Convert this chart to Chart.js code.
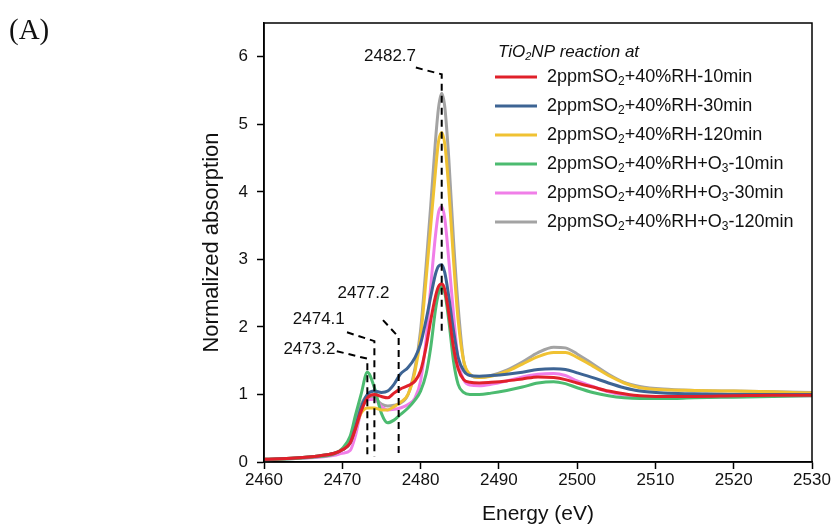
<!DOCTYPE html>
<html>
<head>
<meta charset="utf-8">
<script src="https://cdn.jsdelivr.net/npm/chart.js@4.4.0/dist/chart.umd.min.js"></script>
<style>
  html, body { margin: 0; padding: 0; background: #fff; }
  #wrap { width: 833px; height: 529px; }
</style>
</head>
<body>
<div id="wrap"><canvas id="xanes" width="833" height="529"></canvas></div>
<script>
// photon energy grid (eV)
const energy = [2460, 2464, 2467, 2469, 2470, 2471, 2471.7, 2472.4, 2473.2, 2474.1,
  2475, 2475.8, 2476.6, 2477.4, 2478.4, 2479.3, 2480, 2480.7, 2481.3, 2481.9,
  2482.3, 2482.7, 2483.1, 2483.6, 2484.2, 2484.8, 2485.5, 2486.3, 2487.5, 2489,
  2491, 2493, 2495, 2497, 2498.5, 2500, 2502, 2504, 2506, 2508,
  2511, 2515, 2520, 2525, 2530];

const rh10 = [0.04, 0.06, 0.09, 0.13, 0.18, 0.28, 0.5, 0.75, 0.95, 1.0,
  0.97, 0.95, 1.02, 1.08, 1.13, 1.2, 1.35, 1.7, 2.1, 2.45,
  2.6, 2.64, 2.55, 2.2, 1.7, 1.38, 1.22, 1.18, 1.17, 1.18,
  1.2, 1.23, 1.26, 1.25, 1.22, 1.17, 1.11, 1.05, 1.01, 0.98,
  0.97, 0.97, 0.98, 0.99, 0.99];
const rh30 = [0.04, 0.06, 0.09, 0.13, 0.18, 0.28, 0.52, 0.8, 1.0, 1.05,
  1.03, 1.05, 1.15, 1.3, 1.4, 1.55, 1.75, 2.1, 2.45, 2.78,
  2.9, 2.92, 2.8, 2.45, 1.95, 1.55, 1.35, 1.28, 1.27, 1.28,
  1.3, 1.33, 1.37, 1.38, 1.37, 1.32, 1.25, 1.17, 1.1, 1.05,
  1.02, 1.01, 1.0, 1.0, 1.0];
const rh120 = [0.04, 0.06, 0.09, 0.13, 0.18, 0.28, 0.5, 0.72, 0.8, 0.8,
  0.77, 0.77, 0.82, 0.88, 1.0, 1.35, 1.85, 2.7, 3.5, 4.3,
  4.75, 4.88, 4.7, 4.05, 3.0, 2.1, 1.5, 1.3, 1.25, 1.27,
  1.34, 1.45, 1.56, 1.62, 1.62, 1.55, 1.42, 1.28, 1.17, 1.1,
  1.07, 1.06, 1.05, 1.04, 1.02];
const o3_10 = [0.03, 0.05, 0.08, 0.12, 0.2, 0.38, 0.7, 1.0, 1.33, 1.1,
  0.72, 0.58, 0.62, 0.7, 0.8, 0.92, 1.05, 1.3, 1.7, 2.25,
  2.5, 2.6, 2.5, 2.1, 1.5, 1.15, 1.03, 1.0, 1.0, 1.02,
  1.06, 1.11, 1.17, 1.19, 1.16, 1.1, 1.03, 0.98, 0.95, 0.94,
  0.94, 0.95, 0.96, 0.97, 0.98];
const o3_30 = [0.03, 0.05, 0.07, 0.1, 0.13, 0.17, 0.4, 0.75, 0.92, 0.93,
  0.82, 0.77, 0.78, 0.8, 0.85, 0.95, 1.2, 1.8, 2.6, 3.35,
  3.7, 3.78, 3.6, 3.0, 2.2, 1.5, 1.22, 1.14, 1.13, 1.15,
  1.2, 1.26, 1.3, 1.31, 1.28, 1.2, 1.12, 1.04, 0.99, 0.96,
  0.95, 0.96, 0.97, 0.98, 0.98];
const o3_120 = [0.04, 0.06, 0.09, 0.13, 0.18, 0.3, 0.6, 0.85, 0.97, 0.95,
  0.86, 0.83, 0.84, 0.87, 1.0, 1.4, 1.95, 2.9, 3.8, 4.75,
  5.25, 5.46, 5.25, 4.5, 3.3, 2.3, 1.5, 1.3, 1.25, 1.28,
  1.36, 1.48, 1.62, 1.7, 1.69, 1.6, 1.45, 1.3, 1.18, 1.12,
  1.08, 1.06, 1.05, 1.04, 1.03];

const seriesLabels = ['2ppmSO_2+40%RH-10min', '2ppmSO_2+40%RH-30min', '2ppmSO_2+40%RH-120min',
  '2ppmSO_2+40%RH+O_3-10min', '2ppmSO_2+40%RH+O_3-30min', '2ppmSO_2+40%RH+O_3-120min'];
const seriesValues = [rh10, rh30, rh120, o3_10, o3_30, o3_120];
const seriesColors = ['#e0202a', '#3d6494', '#f0c232', '#4cbb70', '#f07ee8', '#a3a3a3'];

// marked peak energies and their label / leader positions (data units)
const markEnergy = [2473.2, 2474.1, 2477.2, 2482.7];
const markLabelX = [2465.8, 2467.0, 2472.7, 2476.1];
const markLabelY = [1.67, 2.12, 2.5, 6.0];
const markLeadX = [2469.3, 2470.6, 2475.2, 2479.4];
const markLeadY = [1.64, 1.92, 2.10, 5.84];
const markElbowY = [1.53, 1.79, 1.85, 5.74];
const markBottomY = [0.08, 0.08, 0.08, 1.92];

const xTicks = [2460, 2470, 2480, 2490, 2500, 2510, 2520, 2530];
const yTicks = [0, 1, 2, 3, 4, 5, 6];

const FONT = "'Liberation Sans', Arial, sans-serif";

const datasets = [];
markEnergy.forEach((e, i) => {
  datasets.push({
    label: 'mark' + i,
    isMark: true,
    data: [{x: markLeadX[i], y: markLeadY[i]}, {x: e, y: markElbowY[i]}, {x: e, y: markBottomY[i]}],
    borderColor: '#000',
    borderWidth: 2,
    borderDash: [7, 5],
    pointRadius: 0,
    tension: 0
  });
});
seriesValues.forEach((vals, i) => {
  datasets.push({
    label: seriesLabels[i],
    data: energy.map((x, j) => ({x: x, y: vals[j]})),
    borderColor: seriesColors[i],
    borderWidth: 3,
    pointRadius: 0,
    cubicInterpolationMode: 'monotone'
  });
});

// text with _N subscripts
function richText(ctx, text, x, y, size, italic) {
  const parts = text.split(/(_\d)/);
  let cx = x;
  parts.forEach(p => {
    if (!p) return;
    if (p[0] === '_') {
      ctx.font = (italic ? 'italic ' : '') + Math.round(size * 0.65) + 'px ' + FONT;
      ctx.fillText(p.slice(1), cx, y + size * 0.28);
      cx += ctx.measureText(p.slice(1)).width;
    } else {
      ctx.font = (italic ? 'italic ' : '') + size + 'px ' + FONT;
      ctx.fillText(p, cx, y);
      cx += ctx.measureText(p).width;
    }
  });
}

const extras = {
  id: 'extras',
  afterDraw(chart) {
    const ctx = chart.ctx;
    const a = chart.chartArea;
    const xs = chart.scales.x, ys = chart.scales.y;
    ctx.save();
    // frame
    ctx.strokeStyle = '#000';
    ctx.lineWidth = 1.5;
    ctx.strokeRect(a.left, a.top, a.right - a.left, a.bottom - a.top);
    // panel letter
    ctx.fillStyle = '#111';
    ctx.font = "29px 'Liberation Serif', 'Times New Roman', serif";
    ctx.textBaseline = 'middle';
    ctx.textAlign = 'left';
    ctx.fillText('(A)', 9, 31);
    // peak labels
    ctx.font = '17px ' + FONT;
    ctx.textAlign = 'center';
    markEnergy.forEach((e, i) => {
      ctx.fillText(e.toFixed(1), xs.getPixelForValue(markLabelX[i]), ys.getPixelForValue(markLabelY[i]));
    });
    // legend
    ctx.textAlign = 'left';
    const lx = a.left + 231;
    richText(ctx, 'TiO_2NP reaction at', lx + 3, a.top + 29, 17, true);
    chart.data.datasets.filter(d => !d.isMark).forEach((d, i) => {
      const y = a.top + 54 + i * 29;
      ctx.strokeStyle = d.borderColor;
      ctx.lineWidth = 3;
      ctx.beginPath();
      ctx.moveTo(lx, y);
      ctx.lineTo(lx + 42, y);
      ctx.stroke();
      ctx.fillStyle = '#111';
      richText(ctx, d.label, lx + 52, y, 18, false);
    });
    ctx.restore();
  }
};

new Chart(document.getElementById('xanes'), {
  type: 'line',
  data: { datasets: datasets },
  plugins: [extras],
  options: {
    responsive: false,
    animation: false,
    layout: { padding: { left: 195, right: 21, top: 23, bottom: 0 } },
    plugins: { legend: { display: false }, tooltip: { enabled: false } },
    scales: {
      x: {
        type: 'linear',
        min: 2460, max: 2530,
        afterFit(s) { s.height = 67; },
        afterBuildTicks(s) { s.ticks = xTicks.map(v => ({value: v})); },
        grid: { drawOnChartArea: false, tickLength: 7, tickColor: '#000', tickWidth: 1.5 },
        border: { color: '#000', width: 1.5 },
        ticks: { color: '#111', padding: 1, font: { family: FONT, size: 17 },
          callback: v => String(v) },
        title: { display: true, text: 'Energy (eV)', color: '#111', padding: { top: 0, bottom: 2 },
          font: { family: FONT, size: 21 } }
      },
      y: {
        min: 0, max: 6.5,
        afterFit(s) { s.width = 69; },
        afterBuildTicks(s) { s.ticks = yTicks.map(v => ({value: v})); },
        grid: { drawOnChartArea: false, tickLength: 7, tickColor: '#000', tickWidth: 1.5 },
        border: { color: '#000', width: 1.5 },
        ticks: { color: '#111', padding: 9, font: { family: FONT, size: 17 },
          callback: v => String(v) },
        title: { display: true, text: 'Normalized absorption', color: '#111', padding: { top: 4, bottom: 0 },
          font: { family: FONT, size: 22 } }
      }
    }
  }
});
</script>
</body>
</html>
